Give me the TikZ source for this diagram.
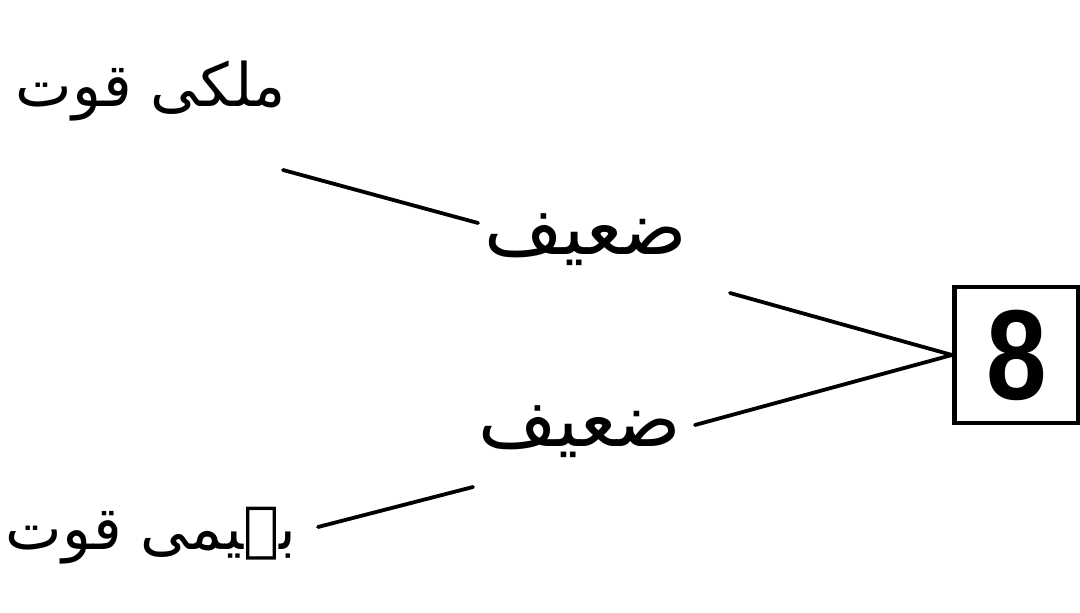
\documentclass[tikz,border=0pt]{standalone}
\usepackage{fontspec}
\setmainfont{Liberation Sans}
\newfontfamily\urdu[Script=Arabic]{DejaVu Sans}
\TeXXeTstate=1
\begin{document}
\begin{tikzpicture}[x=0.5pt,y=-0.5pt,
  urdutext/.style={inner sep=0pt, font=\urdu\fontsize{30}{36}\selectfont},
  bigurdu/.style={inner sep=0pt, font=\urdu\fontsize{38}{44}\selectfont},
  link/.style={line width=1.9pt, line cap=round},
  numbox/.style={draw, line width=2.4pt, minimum width=62pt, minimum height=68pt, inner sep=0pt, anchor=west, font=\bfseries\fontsize{64}{64}\selectfont}]
\useasboundingbox (0,0) rectangle (1080,613);
\node[urdutext] (mulki) at (151,91) {\beginR ملکی قوت\endR};
\node[bigurdu] (zaif1) at (586,240) {\beginR ضعیف\endR};
\node[bigurdu] (zaif2) at (580,432) {\beginR ضعیف\endR};
\node[urdutext] (bahimi) at (151,536) {\beginR بہیمی قوت\endR};
\node[numbox] (box) at (952,355) {\scalebox{0.85}[1]{8}};
\coordinate (a1) at (283,170);
\coordinate (a2) at (478,223);
\coordinate (b1) at (730,293);
\coordinate (c1) at (695,425);
\coordinate (d1) at (318,527);
\coordinate (d2) at (473,487);
\draw[link] (a1) -- (a2);
\draw[link] (b1) -- (box.west);
\draw[link] (c1) -- (box.west);
\draw[link] (d1) -- (d2);
\end{tikzpicture}
\end{document}
